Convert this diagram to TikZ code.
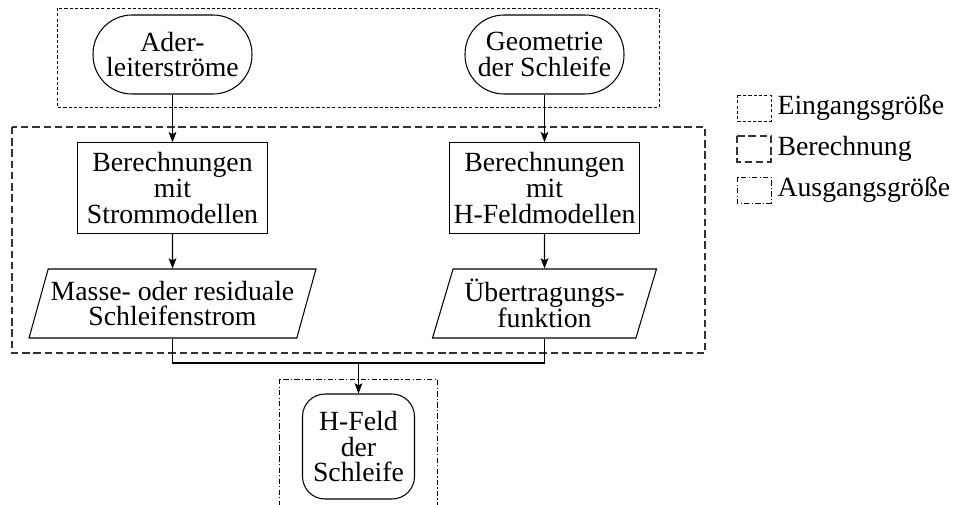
\documentclass[tikz,border=0pt]{standalone}
\usepackage{fontspec}
\setmainfont{Liberation Serif}
\usetikzlibrary{arrows.meta}
\usetikzlibrary{shapes.geometric}
\usetikzlibrary{positioning}
\tikzset{term/.style = {draw, rounded corners = 0.78cm, align = center, minimum width = 3.18cm, minimum height = 1.58cm, inner sep = 0}}
\tikzset{calcbox/.style = {draw, align = center, minimum width = 3.81cm, minimum height = 1.81cm, inner sep = 0}}
\tikzset{datbox/.style = {draw, trapezium, trapezium left angle = 67, trapezium right angle = 113, trapezium stretches body, align = center, minimum height = 1.38cm, inner sep = 0}}
\tikzset{ingroup/.style = {line width = 0.5pt, dash pattern = on 1.8pt off 1.2pt}}
\tikzset{calcgroup/.style = {line width = 0.6pt, black!80, dash pattern = on 4.2pt off 2.2pt}}
\tikzset{outgroup/.style = {line width = 0.5pt, dash pattern = on 3pt off 1.3pt on 0.7pt off 1.3pt}}
\tikzset{flow/.style = {-{Stealth[length = 5.8pt, width = 4.4pt, inset = 1.2pt]}}}

\begin{document}
\begin{tikzpicture}[x = 0.02cm, y = -0.02cm, line width = 0.6pt, font = \fontsize{15.8}{14.6}\selectfont]
      \useasboundingbox (0, 0) rectangle (955, 504);
      \draw [ingroup] (57, 8) rectangle (659, 107);
      \draw [calcgroup] (12, 127) rectangle (705, 353);
      \draw [outgroup] (279, 379) rectangle (437, 508);
      \node [term] (ader) at (172.5, 54.5) {Ader-\\leiterströme};
      \node [term] (geo) at (544.5, 54.5) {Geometrie\\der Schleife};
      \node [calcbox] (strom) at (172.5, 188) {Berechnungen\\mit\\Strommodellen};
      \node [calcbox] (hmod) at (544.5, 188) {Berechnungen\\mit\\H-Feldmodellen};
      \node [datbox, minimum width = 5.74cm] (mass) at (172.5, 303.5) {Masse- oder residuale\\Schleifenstrom};
      \node [datbox, minimum width = 4.48cm] (ueb) at (544.5, 303.5) {Übertragungs-\\funktion};
      \node [draw, rounded corners = 0.45cm, align = center, minimum width = 2.24cm, minimum height = 2.1cm, inner sep = 0] (hfeld) at (358.5, 446.5) {H-Feld\\der\\Schleife};
      \coordinate (merge) at (358.5, 363);
      \draw [flow] (ader) -- (strom);
      \draw [flow] (geo) -- (hmod);
      \draw [flow] (strom) -- (mass);
      \draw [flow] (hmod) -- (ueb);
      \draw (mass.south) |- (merge) -| (ueb.south);
      \draw [flow] (merge) -- (hfeld);
      \foreach \sty/\txt [count = \i] in {ingroup/Eingangsgröße, calcgroup/Berechnung, outgroup/Ausgangsgröße} {
        \draw [\sty] (737, 95 + 41 * \i - 41) rectangle ++(34, 26);
        \node [anchor = west, inner sep = 0] (leg\i) at (777, 108 + 41 * \i - 41) {\txt};
      }
    \end{tikzpicture}
\end{document}
